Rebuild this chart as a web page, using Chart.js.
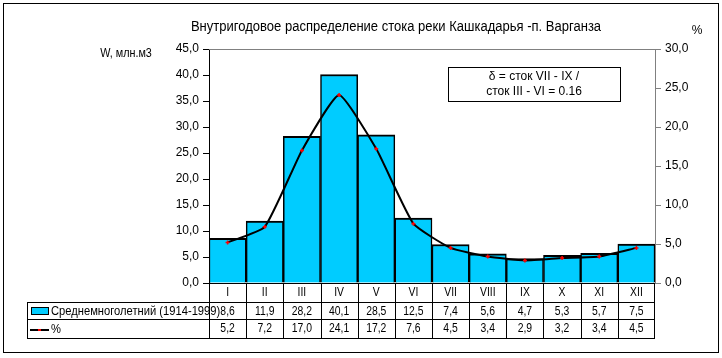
<!DOCTYPE html>
<html>
<head>
<meta charset="utf-8">
<script src="https://cdn.jsdelivr.net/npm/chart.js@4.4.0/dist/chart.umd.min.js"></script>
<style>
  html, body { margin: 0; padding: 0; background: #fff; }
  #wrap { width: 722px; height: 358px; }
</style>
</head>
<body>
<div id="wrap"><canvas id="runoffChart" width="722" height="358"></canvas></div>
<script>
// Months (roman numerals)
const months = ['I', 'II', 'III', 'IV', 'V', 'VI', 'VII', 'VIII', 'IX', 'X', 'XI', 'XII'];
// Mean annual runoff, mln m3 (1914-1999)
const runoffValues = [8.6, 11.9, 28.2, 40.1, 28.5, 12.5, 7.4, 5.6, 4.7, 5.3, 5.7, 7.5];
// Share of annual runoff, %
const percentValues = [5.2, 7.2, 17.0, 24.1, 17.2, 7.6, 4.5, 3.4, 2.9, 3.2, 3.4, 4.5];

const seriesName = 'Среднемноголетний (1914-1999)';
const titleText = 'Внутригодовое распределение стока реки Кашкадарья -п. Варганза';
const noteLines = ['δ = сток VII - IX /', 'сток III - VI = 0.16'];

const FONT = '"Liberation Sans", Arial, sans-serif';
const BAR_COLOR = '#00CCFF';

function fmt(v) {
    return v.toFixed(1).replace('.', ',');
}

// Excel-like condensed text: squeeze horizontally
function narrowText(ctx, text, x, y, sx) {
    ctx.save();
    ctx.translate(x, y);
    ctx.scale(sx, 1);
    ctx.fillText(text, 0, 0);
    ctx.restore();
}

// Draws frame, titles, note box and the data table under the plot
const decorPlugin = {
    id: 'decor',
    beforeDraw(chart) {
        const ctx = chart.ctx;
        ctx.save();
        ctx.fillStyle = '#fff';
        ctx.fillRect(0, 0, chart.width, chart.height);
        ctx.restore();
    },
    afterDraw(chart) {
        const ctx = chart.ctx;
        const area = chart.chartArea;
        const x = chart.scales.x;
        ctx.save();

        // outer chart frame
        ctx.strokeStyle = '#000';
        ctx.lineWidth = 1;
        ctx.strokeRect(3.5, 3.5, 715, 349);

        // plot top line (grey)
        ctx.strokeStyle = '#808080';
        ctx.beginPath();
        ctx.moveTo(area.left, area.top + 0.5);
        ctx.lineTo(area.right, area.top + 0.5);
        ctx.stroke();

        // titles
        ctx.fillStyle = '#000';
        ctx.font = '14px ' + FONT;
        ctx.textAlign = 'center';
        ctx.textBaseline = 'middle';
        narrowText(ctx, titleText, 396, 27, 0.93);
        ctx.font = '12px ' + FONT;
        ctx.fillText('%', 697, 31);
        narrowText(ctx, 'W, млн.м3', 126, 54, 0.9);

        // note box
        ctx.strokeStyle = '#000';
        ctx.strokeRect(448.5, 67.5, 172, 34);
        ctx.fillText(noteLines[0], 534, 77);
        ctx.fillText(noteLines[1], 534, 92);

        // data table
        const yTop = area.bottom;
        const yRow1 = 302, yRow2 = 319, yBot = 338;
        const tableLeft = 27;
        const half = (x.getPixelForValue(1) - x.getPixelForValue(0)) / 2;

        ctx.strokeStyle = '#000';
        ctx.lineWidth = 1;
        ctx.beginPath();
        [yRow1, yRow2, yBot].forEach(y => {
            ctx.moveTo(tableLeft, y + 0.5);
            ctx.lineTo(area.right, y + 0.5);
        });
        ctx.moveTo(tableLeft + 0.5, yRow1);
        ctx.lineTo(tableLeft + 0.5, yBot);
        months.forEach((m, i) => {
            const edge = Math.round(x.getPixelForValue(i) - half) + 0.5;
            ctx.moveTo(edge, yTop);
            ctx.lineTo(edge, yBot);
        });
        const rightEdge = Math.round(area.right) - 0.5;
        ctx.moveTo(rightEdge, yTop);
        ctx.lineTo(rightEdge, yBot + 1);
        ctx.stroke();

        ctx.font = '13px ' + FONT;
        ctx.textAlign = 'center';
        months.forEach((m, i) => {
            const cx = x.getPixelForValue(i);
            narrowText(ctx, m, cx, 292, 0.8);
            narrowText(ctx, fmt(runoffValues[i]), cx, 311, 0.8);
            narrowText(ctx, fmt(percentValues[i]), cx, 328, 0.8);
        });

        // legend keys
        ctx.fillStyle = BAR_COLOR;
        ctx.fillRect(31, 307, 18, 8);
        ctx.strokeRect(31.5, 307.5, 17, 7);
        ctx.strokeStyle = '#000';
        ctx.lineWidth = 2;
        ctx.beginPath();
        ctx.moveTo(30, 330);
        ctx.lineTo(49, 330);
        ctx.stroke();
        ctx.fillStyle = '#f00';
        ctx.fillRect(38, 329, 3, 2);

        ctx.fillStyle = '#000';
        ctx.textAlign = 'left';
        narrowText(ctx, seriesName, 51, 311, 0.86);
        narrowText(ctx, '%', 51, 329, 0.86);

        ctx.restore();
    }
};

const ctx = document.getElementById('runoffChart').getContext('2d');

new Chart(ctx, {
    type: 'bar',
    data: {
        labels: months,
        datasets: [
            {
                type: 'line',
                label: '%',
                data: percentValues,
                yAxisID: 'y2',
                borderColor: '#000',
                borderWidth: 2,
                tension: 0.15,
                pointStyle: 'cross',
                pointRadius: 2,
                pointBorderColor: '#f00',
                pointBorderWidth: 1.5,
                order: 0
            },
            {
                label: seriesName,
                data: runoffValues,
                yAxisID: 'y',
                backgroundColor: BAR_COLOR,
                borderColor: '#000',
                borderWidth: { top: 2, left: 1.5, right: 1.5, bottom: 0 },
                borderSkipped: false,
                barPercentage: 1,
                categoryPercentage: 1,
                order: 1
            }
        ]
    },
    options: {
        responsive: false,
        animation: false,
        events: [],
        layout: { padding: { top: 49, left: 0, right: 0, bottom: 0 } },
        plugins: {
            legend: { display: false },
            title: { display: false },
            tooltip: { enabled: false }
        },
        scales: {
            x: {
                offset: true,
                ticks: { display: false },
                grid: { display: false },
                border: { display: true, color: '#000', width: 1 },
                afterFit: s => { s.height = 75; }
            },
            y: {
                position: 'left',
                min: 0,
                max: 45,
                ticks: {
                    stepSize: 5,
                    color: '#000',
                    padding: 4,
                    font: { family: FONT, size: 12 },
                    callback: v => fmt(v)
                },
                grid: { drawOnChartArea: false, drawTicks: true, tickLength: 6, tickColor: '#000' },
                border: { display: true, color: '#000', width: 1 },
                afterFit: s => { s.width = 209; }
            },
            y2: {
                position: 'right',
                min: 0,
                max: 30,
                ticks: {
                    stepSize: 5,
                    color: '#000',
                    padding: 4,
                    font: { family: FONT, size: 12 },
                    callback: v => fmt(v)
                },
                grid: { drawOnChartArea: false, drawTicks: true, tickLength: 6, tickColor: '#808080' },
                border: { display: true, color: '#808080', width: 1 },
                afterFit: s => { s.width = 67; }
            }
        }
    },
    plugins: [decorPlugin]
});
</script>
</body>
</html>
